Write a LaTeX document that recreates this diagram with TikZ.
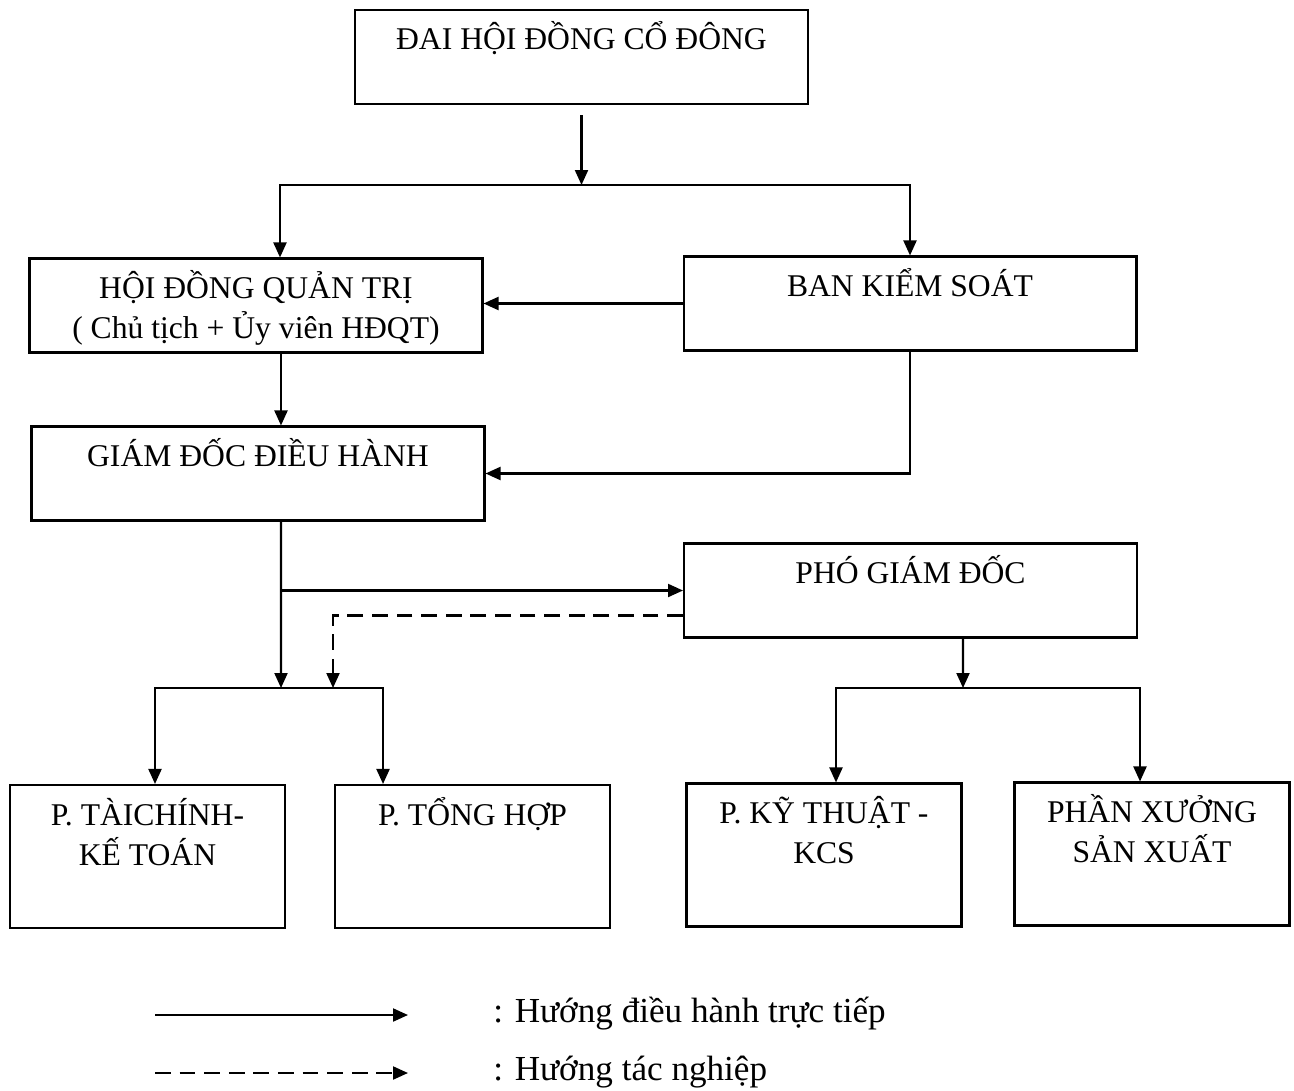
\documentclass[tikz,border=0pt]{standalone}
\usepackage{fontspec}
\setmainfont{Liberation Serif}
\usetikzlibrary{arrows.meta}
\tikzset{
	box/.style={draw,line width=1.2pt,inner sep=0pt,align=center,font=\fontsize{18}{22.7}\selectfont,text height=0.8cm,text depth=1.08cm,minimum width=9.06cm},
	box2/.style={box,text height=1.6cm,text depth=0.28cm},
	dept/.style={box,text depth=2.06cm,minimum width=5.5cm},
	dept2/.style={dept,text height=1.6cm,text depth=1.26cm},
	legtext/.style={anchor=base west,inner sep=0pt,font=\fontsize{20}{24}\selectfont},
	flow/.style={line width=1.2pt,->},
	task/.style={flow,dash pattern=on 9pt off 5pt}
}
\begin{document}
\begin{tikzpicture}[x=0.02cm,y=-0.02cm,>={Triangle[length=3mm,width=2.6mm]}]
	\useasboundingbox (0,0) rectangle (1294,1091);
	\node[box] (dhdcd) at (581.5,57) {ĐAI HỘI ĐỒNG CỔ ĐÔNG};
	\node[box2] (hdqt) at (256,305.5) {HỘI ĐỒNG QUẢN TRỊ\\( Chủ tịch + Ủy viên HĐQT)};
	\node[box] (bks) at (910,303.5) {BAN KIỂM SOÁT};
	\node[box] (gddh) at (258,473.5) {GIÁM ĐỐC ĐIỀU HÀNH};
	\node[box] (pgd) at (910.5,590.5) {PHÓ GIÁM ĐỐC};
	\node[dept2] (ptc) at (147.5,856.5) {P. TÀICHÍNH-\\KẾ TOÁN};
	\node[dept] (pth) at (472.5,856.5) {P. TỔNG HỢP};
	\node[dept2] (pkt) at (824,855) {P. KỸ THUẬT -\\KCS};
	\node[dept2] (pxsx) at (1152,854) {PHẦN XƯỞNG\\SẢN XUẤT};
	\coordinate (top) at (581,185);
	\coordinate (gdown) at (281,688);
	\coordinate (tdown) at (333,688);
	\coordinate (pdown) at (963,688);
	\draw[flow,shorten <=0.2cm] (dhdcd.south) -- (dhdcd.south |- top);
	\draw[flow] (top) -| ([xshift=0.48cm]hdqt.north);
	\draw[flow] (top) -| (bks.north);
	\draw[flow] (bks.west) -- (bks.west -| hdqt.east);
	\draw[flow] ([xshift=0.5cm]hdqt.south) -- ([xshift=0.5cm]hdqt.south |- gddh.north);
	\draw[flow] (bks.south) |- (gddh.east);
	\draw[flow] ([xshift=0.46cm]gddh.south) -- (gdown);
	\draw[flow] (gdown |- pgd.west) -- (pgd.west);
	\draw[task] ([yshift=-0.5cm]pgd.west) -| (tdown);
	\draw[flow] (gdown) -| ([xshift=0.15cm]ptc.north);
	\draw[flow] (gdown) -| ([xshift=-1.79cm]pth.north);
	\draw[flow] ([xshift=1.05cm]pgd.south) -- (pdown);
	\draw[flow] (pdown) -| ([xshift=0.24cm]pkt.north);
	\draw[flow] (pdown) -| ([xshift=-0.24cm]pxsx.north);
	\coordinate (s1) at (155,1015);
	\coordinate (e1) at (408,1015);
	\coordinate (s2) at (155,1073);
	\coordinate (e2) at (408,1073);
	\draw[flow] (s1) -- (e1);
	\draw[task] (s2) -- (e2);
	\node[legtext] (l1) at (493,1022) {: Hướng điều hành trực tiếp};
	\node[legtext] (l2) at (493,1080) {: Hướng tác nghiệp};
\end{tikzpicture}
\end{document}
